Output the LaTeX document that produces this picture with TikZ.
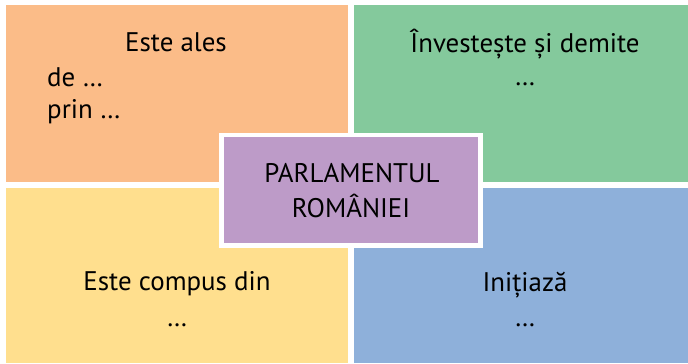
\documentclass[tikz,border=0pt]{standalone}
\usepackage{fontspec}
\setmainfont{PT Sans}
\definecolor{qorange}{HTML}{FBBC88}
\definecolor{qgreen}{HTML}{84C99C}
\definecolor{qyellow}{HTML}{FFDF8E}
\definecolor{qblue}{HTML}{8EB0DA}
\definecolor{qpurple}{HTML}{BD9BC8}
\begin{document}
\begin{tikzpicture}[x=1bp,y=-1bp,
  txt/.style={font=\fontsize{27}{32}\selectfont, inner sep=0pt, anchor=base, text=black}]
\useasboundingbox (0,0) rectangle (688,363);
\fill[qorange] (6,5) rectangle (348,182);
\fill[qgreen] (354,5) rectangle (688,182);
\fill[qyellow] (6,188) rectangle (348,363);
\fill[qblue] (354,188) rectangle (688,363);
\fill[white] (219,133) rectangle (483,248);
\fill[qpurple] (224,137) rectangle (478,243);
\node[txt] (ales) at (176,51) {Este ales};
\node[txt, anchor=base west] (de) at (47,86) {de …};
\node[txt, anchor=base west] (prin) at (47,118) {prin …};
\node[txt] (inv) at (525,52) {Învestește și demite};
\node[txt] (invd) at (525,85) {…};
\node[txt] (parl) at (352,182) {PARLAMENTUL};
\node[txt] (rom) at (351,217) {ROMÂNIEI};
\node[txt] (comp) at (177,290) {Este compus din};
\node[txt] (compd) at (177,326) {…};
\node[txt] (ini) at (525,291) {Inițiază};
\node[txt] (inid) at (525,326) {…};
\end{tikzpicture}
\end{document}
